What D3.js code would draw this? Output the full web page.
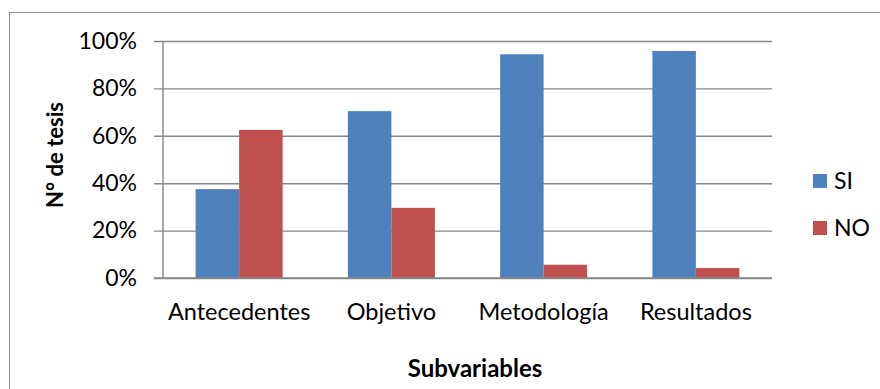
<!DOCTYPE html>
<html>
<head>
<meta charset="utf-8">
<script src="https://cdn.jsdelivr.net/npm/d3@7"></script>
<style>
  html, body { margin: 0; padding: 0; background: #fff; }
  svg { display: block; font-family: Lato, "Open Sans", sans-serif; }
</style>
</head>
<body>
<svg id="chart" width="880" height="389"></svg>
<script>
// Share of theses that include each subvariable (SI) or not (NO)
const categories = ["Antecedentes", "Objetivo", "Metodología", "Resultados"];
const seriesNames = ["SI", "NO"];
const siValues = [37.5, 70.4, 94.4, 95.8];
const noValues = [62.5, 29.6, 5.6, 4.2];
const yTicks = [0, 20, 40, 60, 80, 100];
const colors = ["#4F81BD", "#C0504D"];

const svg = d3.select("#chart");

// outer chart frame
svg.append("rect")
  .attr("x", 9.5).attr("y", 12.5)
  .attr("width", 900).attr("height", 400)
  .attr("fill", "none").attr("stroke", "#8a8a8a").attr("stroke-width", 1);

const plot = { left: 163, right: 772, top: 41, bottom: 278 };

const x = d3.scaleBand()
  .domain(categories)
  .range([plot.left, plot.right])
  .paddingInner(0.4286)
  .paddingOuter(0.2143);

const y = d3.scaleLinear().domain([0, 100]).range([plot.bottom, plot.top]);

const x1 = d3.scaleBand().domain(seriesNames).range([0, x.bandwidth()]);

// gridlines + y axis
const yAxis = d3.axisLeft(y)
  .tickValues(yTicks)
  .tickFormat(d => d + "%")
  .tickSize(plot.right - plot.left + 9)
  .tickPadding(17);

const gy = svg.append("g")
  .attr("transform", `translate(${plot.right},0)`)
  .call(yAxis);
gy.select(".domain").remove();
gy.selectAll(".tick line").attr("stroke", "#878787").attr("stroke-width", 1.4);
gy.selectAll(".tick text")
  .attr("font-size", 23).attr("fill", "#000")
  .attr("font-family", "Lato, sans-serif");

// vertical value axis line
svg.append("line")
  .attr("x1", plot.left).attr("x2", plot.left)
  .attr("y1", plot.top).attr("y2", plot.bottom)
  .attr("stroke", "#878787").attr("stroke-width", 1.4);

// bars
const data = categories.map((c, i) => ({ cat: c, vals: [siValues[i], noValues[i]] }));
const groups = svg.append("g").selectAll("g")
  .data(data).join("g")
  .attr("transform", d => `translate(${x(d.cat)},0)`);

groups.selectAll("rect")
  .data(d => d.vals.map((v, j) => ({ key: seriesNames[j], v, j })))
  .join("rect")
  .attr("x", d => x1(d.key))
  .attr("width", x1.bandwidth())
  .attr("y", d => y(d.v))
  .attr("height", d => y(0) - y(d.v))
  .attr("fill", d => colors[d.j]);

// category axis
const xAxis = d3.axisBottom(x).tickSize(0).tickPadding(25);
const gx = svg.append("g")
  .attr("transform", `translate(0,${plot.bottom})`)
  .call(xAxis);
gx.select(".domain").remove();
gx.selectAll(".tick text")
  .attr("font-size", 23.5).attr("fill", "#000")
  .attr("font-family", "Lato, sans-serif");

svg.append("line")
  .attr("x1", plot.left - 9).attr("x2", plot.right)
  .attr("y1", plot.bottom).attr("y2", plot.bottom)
  .attr("stroke", "#878787").attr("stroke-width", 1.4);

// axis titles
svg.append("text")
  .attr("x", 475).attr("y", 377)
  .attr("text-anchor", "middle")
  .attr("font-size", 24).attr("font-weight", "bold")
  .text("Subvariables");

svg.append("text")
  .attr("transform", "translate(63,155) rotate(-90)")
  .attr("text-anchor", "middle")
  .attr("font-size", 22).attr("font-weight", "bold")
  .text("N° de tesis");

// legend
const legend = svg.append("g").selectAll("g")
  .data(seriesNames).join("g")
  .attr("transform", (d, i) => `translate(813,${174 + i * 47})`);
legend.append("rect")
  .attr("width", 14).attr("height", 14)
  .attr("fill", (d, i) => colors[i]);
legend.append("text")
  .attr("x", 21).attr("y", 7).attr("dy", "0.35em")
  .attr("font-size", 23)
  .text(d => d);
</script>
</body>
</html>
